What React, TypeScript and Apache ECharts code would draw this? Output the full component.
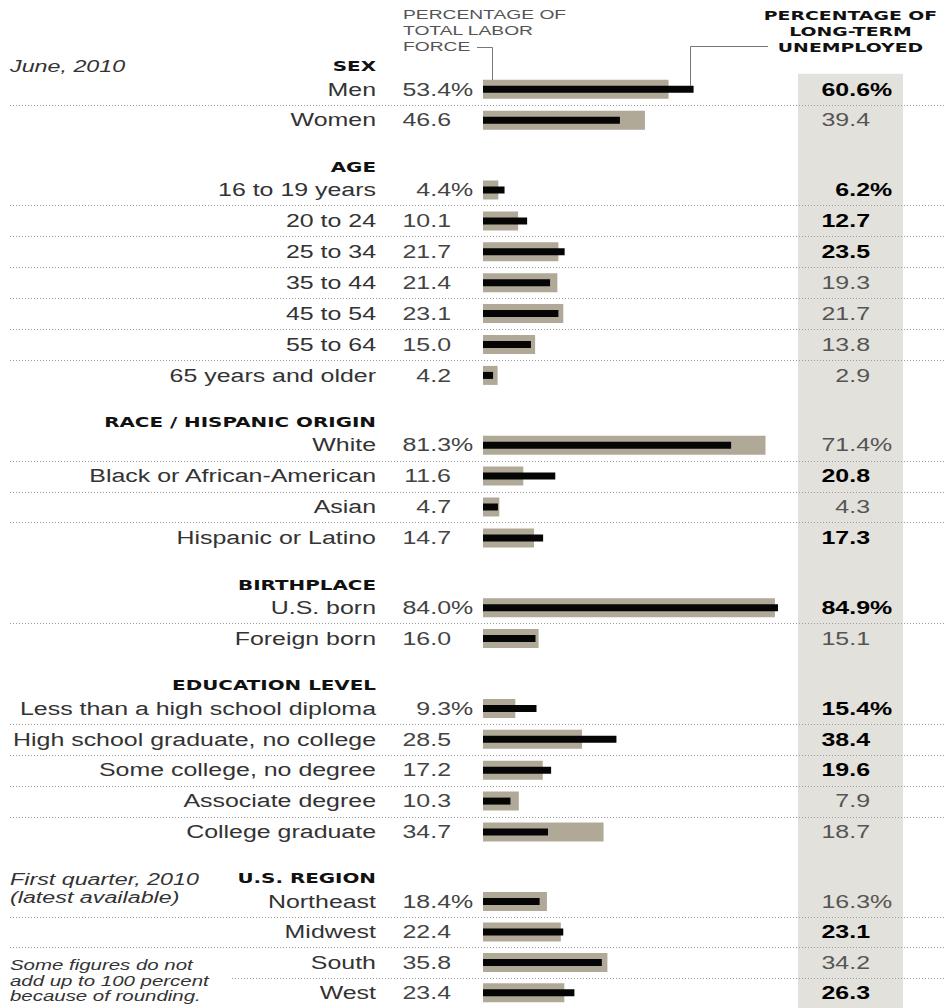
import React, { useEffect, useRef } from "react";
import * as echarts from "echarts";

// ---------- data ----------
const sectionTitles = ["SEX", "AGE", "RACE / HISPANIC ORIGIN", "BIRTHPLACE", "EDUCATION LEVEL", "U.S. REGION"];

const sexLabels = ["Men", "Women"];
const sexLabor = [53.4, 46.6];
const sexLongTerm = [60.6, 39.4];

const ageLabels = ["16 to 19 years", "20 to 24", "25 to 34", "35 to 44", "45 to 54", "55 to 64", "65 years and older"];
const ageLabor = [4.4, 10.1, 21.7, 21.4, 23.1, 15.0, 4.2];
const ageLongTerm = [6.2, 12.7, 23.5, 19.3, 21.7, 13.8, 2.9];

const raceLabels = ["White", "Black or African-American", "Asian", "Hispanic or Latino"];
const raceLabor = [81.3, 11.6, 4.7, 14.7];
const raceLongTerm = [71.4, 20.8, 4.3, 17.3];

const birthLabels = ["U.S. born", "Foreign born"];
const birthLabor = [84.0, 16.0];
const birthLongTerm = [84.9, 15.1];

const eduLabels = [
  "Less than a high school diploma",
  "High school graduate, no college",
  "Some college, no degree",
  "Associate degree",
  "College graduate",
];
const eduLabor = [9.3, 28.5, 17.2, 10.3, 34.7];
const eduLongTerm = [15.4, 38.4, 19.6, 7.9, 18.7];

const regionLabels = ["Northeast", "Midwest", "South", "West"];
const regionLabor = [18.4, 22.4, 35.8, 23.4];
const regionLongTerm = [16.3, 23.1, 34.2, 26.3];

const sectionLabels = [sexLabels, ageLabels, raceLabels, birthLabels, eduLabels, regionLabels];
const sectionLabor = [sexLabor, ageLabor, raceLabor, birthLabor, eduLabor, regionLabor];
const sectionLongTerm = [sexLongTerm, ageLongTerm, raceLongTerm, birthLongTerm, eduLongTerm, regionLongTerm];

// ---------- layout / style ----------
const W = 945;
const H = 1008;
const ROW = 30.9;
const SECTION_STEP = 69.8; // center of last row to center of next section's first row
const FIRST_ROW = 89.3;
const BAR_LEFT = 483;
const BAR_SPAN = 347.5; // 0..100
const LABEL_X = 376;
const LEFT_NUM_X = 451;
const RIGHT_NUM_X = 870;
const COL_X = 798;
const COL_W = 105;

const TAN = "#b0a998";
const BLACK = "#050505";
const COL_GREY = "#e3e1db";
const SANS = "'Liberation Sans', Arial, Helvetica, sans-serif";
const HEAVY = "'DejaVu Sans', 'Liberation Sans', sans-serif";
const SX = 1.385;

function sectionFirstCenters() {
  const out: number[] = [];
  let y = FIRST_ROW;
  sectionLabels.forEach((labels) => {
    out.push(y);
    y += (labels.length - 1) * ROW + SECTION_STEP;
  });
  return out;
}

function txt(
  text: string,
  x: number,
  y: number,
  o: { align?: string; size?: number; weight?: any; style?: string; family?: string; fill?: string; sx?: number } = {}
) {
  const align = o.align || "left";
  return {
    type: "text",
    x,
    y,
    scaleX: o.sx ?? SX,
    z: 10,
    silent: true,
    style: {
      text,
      fill: o.fill || "#333",
      fontSize: o.size || 18,
      fontFamily: o.family || SANS,
      fontWeight: o.weight || "normal",
      fontStyle: o.style || "normal",
      textAlign: align,
      align,
      textVerticalAlign: "middle",
      verticalAlign: "middle",
    },
  };
}

export default function App() {
  const ref = useRef<HTMLDivElement>(null);

  useEffect(() => {
    if (!ref.current) return;
    const chart = echarts.init(ref.current, undefined, { renderer: "svg", width: W, height: H });
    const firsts = sectionFirstCenters();

    const grids: any[] = [];
    const xAxes: any[] = [];
    const yAxes: any[] = [];
    const series: any[] = [];
    sectionLabels.forEach((labels, s) => {
      grids.push({
        left: BAR_LEFT,
        width: BAR_SPAN,
        top: firsts[s] - ROW / 2,
        height: labels.length * ROW,
        containLabel: false,
      });
      xAxes.push({ type: "value", gridIndex: s, min: 0, max: 100, show: false });
      const yBase = {
        type: "category",
        gridIndex: s,
        data: labels,
        inverse: true,
        show: false,
        boundaryGap: true,
      };
      yAxes.push({ ...yBase });
      yAxes.push({ ...yBase });
      series.push({
        type: "bar",
        name: "Labor force " + sectionTitles[s],
        xAxisIndex: s,
        yAxisIndex: 2 * s,
        data: sectionLabor[s],
        barWidth: 19,
        itemStyle: { color: TAN },
        silent: true,
        z: 2,
      });
      series.push({
        type: "bar",
        name: "Long-term unemployed " + sectionTitles[s],
        xAxisIndex: s,
        yAxisIndex: 2 * s + 1,
        data: sectionLongTerm[s],
        barWidth: 7,
        itemStyle: { color: BLACK },
        silent: true,
        z: 3,
      });
    });

    chart.setOption({
      animation: false,
      backgroundColor: "#ffffff",
      grid: grids,
      xAxis: xAxes,
      yAxis: yAxes,
      series,
    });

    const els: any[] = [];
    // grey column
    els.push({
      type: "rect",
      z: 0,
      silent: true,
      shape: { x: COL_X, y: firsts[0] - ROW / 2, width: COL_W, height: H - (firsts[0] - ROW / 2) },
      style: { fill: COL_GREY },
    });

    // headers
    const hdrL = ["PERCENTAGE OF", "TOTAL LABOR", "FORCE"];
    const hdrLY = [14.5, 30.5, 46.5];
    hdrL.forEach((t, i) => els.push(txt(t, 403, hdrLY[i], { size: 13, fill: "#555", sx: 1.48 })));
    const hdrR = ["PERCENTAGE OF", "LONG-TERM", "UNEMPLOYED"];
    const hdrRY = [15.3, 31.5, 47.5];
    hdrR.forEach((t, i) =>
      els.push(txt(t, 850.5, hdrRY[i], { size: 13, fill: "#111", weight: "bold", family: HEAVY, sx: 1.45, align: "center" }))
    );
    // callout lines
    els.push({
      type: "polyline",
      z: 5,
      silent: true,
      shape: { points: [[477, 47.5], [492.5, 47.5], [492.5, 80]] },
      style: { stroke: "#777", lineWidth: 1, fill: null },
    });
    els.push({
      type: "polyline",
      z: 5,
      silent: true,
      shape: { points: [[768, 46.5], [690.5, 46.5], [690.5, 86]] },
      style: { stroke: "#777", lineWidth: 1, fill: null },
    });

    // notes
    const italic = { style: "italic", size: 17, sx: 1.37, fill: "#333" };
    els.push(txt("June, 2010", 10, 66, italic));
    els.push(txt("First quarter, 2010", 10, 879.5, italic));
    els.push(txt("(latest available)", 10, 897.5, italic));
    const noteLines = ["Some figures do not", "add up to 100 percent", "because of rounding."];
    const noteY = [965.5, 981, 996.5];
    noteLines.forEach((t, i) => els.push(txt(t, 10, noteY[i], { style: "italic", size: 14, sx: 1.46, fill: "#333" })));

    sectionLabels.forEach((labels, s) => {
      const ys = labels.map((_, i) => chart.convertToPixel({ yAxisIndex: 2 * s } as any, i) as number);
      els.push(
        txt(sectionTitles[s], LABEL_X, ys[0] - 23, { align: "right", size: 14, weight: "bold", family: HEAVY, sx: 1.42, fill: "#111" })
      );
      labels.forEach((lab, i) => {
        const y = ys[i];
        els.push(txt(lab, LABEL_X, y, { align: "right", fill: "#333" }));
        const lv = sectionLabor[s][i];
        const tv = sectionLongTerm[s][i];
        els.push(txt(lv.toFixed(1), LEFT_NUM_X, y, { align: "right", fill: "#444" }));
        const bold = tv > lv;
        const rOpts = { align: "right", fill: bold ? "#000" : "#555", weight: bold ? "bold" : "normal" };
        els.push(txt(tv.toFixed(1), RIGHT_NUM_X, y, rOpts));
        if (i === 0) {
          els.push(txt("%", LEFT_NUM_X, y, { fill: "#444" }));
          els.push(txt("%", RIGHT_NUM_X, y, { ...rOpts, align: "left" }));
        }
        if (i < labels.length - 1) {
          const ly = Math.round((ys[i] + ys[i + 1]) / 2) + 0.5;
          const isLastSep = s === sectionLabels.length - 1 && i === labels.length - 2;
          els.push({
            type: "line",
            z: 6,
            silent: true,
            shape: { x1: isLastSep ? 232 : 10, y1: ly, x2: W, y2: ly },
            style: { stroke: "#9a9a9a", lineWidth: 1, lineDash: [1, 2] },
          });
        }
      });
    });

    chart.setOption({ graphic: { elements: els } });

    return () => chart.dispose();
  }, []);

  return (
    <div
      ref={ref}
      style={{ position: "absolute", left: 0, top: 0, width: W, height: H, background: "#fff" }}
    />
  );
}
